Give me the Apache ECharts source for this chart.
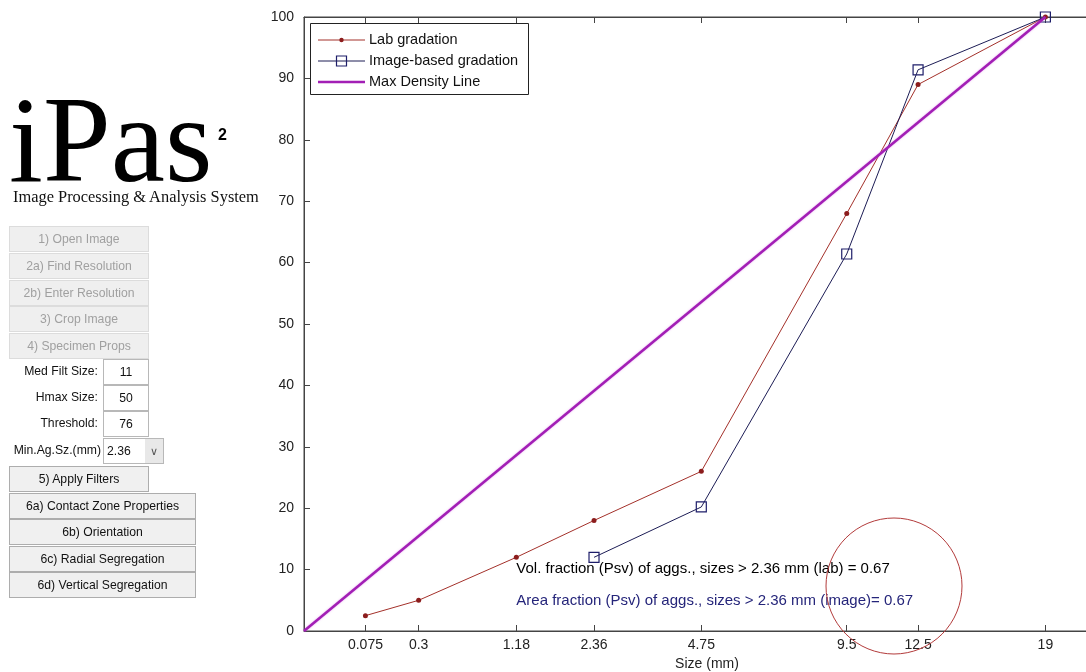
<!DOCTYPE html>
<html>
<head>
<meta charset="utf-8">
<script src="https://cdn.jsdelivr.net/npm/echarts@6/dist/echarts.min.js"></script>
<style>
  html, body { margin:0; padding:0; width:1086px; height:672px; overflow:hidden; background:#fff; font-family:"Liberation Sans", Arial, sans-serif; }
  #chart { position:absolute; left:0; top:0; width:1110px; height:672px; }
  #panel { position:absolute; left:0; top:0; width:270px; height:672px; z-index:2; }
  .logo { position:absolute; left:9px; top:79px; font-family:"Liberation Serif","Times New Roman",serif; font-size:122px; line-height:122px; color:#000; letter-spacing:0px; }
  .sup { position:absolute; left:218px; top:126px; font-family:"Liberation Sans",Arial,sans-serif; font-weight:bold; font-size:16px; color:#000; }
  .sub { position:absolute; left:13px; top:187px; font-family:"Liberation Serif","Times New Roman",serif; font-size:16.4px; color:#111; white-space:nowrap; }
  .btn { position:absolute; box-sizing:border-box; height:26px; line-height:24px; text-align:center; font-size:12.2px; color:#111; background:#f0f0f0; border:1px solid #adadad; white-space:nowrap; }
  .btn.dis { color:#a0a0a0; background:#efefef; border-color:#dcdcdc; }
  .lbl { position:absolute; font-size:12.2px; color:#111; text-align:right; white-space:nowrap; }
  .inp { position:absolute; box-sizing:border-box; height:26px; line-height:24px; text-align:center; font-size:12.2px; color:#111; background:#fff; border:1px solid #b8b8b8; }
  .sel { position:absolute; box-sizing:border-box; height:26px; line-height:24px; font-size:12.2px; color:#111; background:#fff; border:1px solid #b8b8b8; padding-left:3px; }
  .sel span { position:absolute; right:0; top:0; width:18px; height:24px; background:#e8e8e8; text-align:center; color:#555; font-size:11px; }
</style>
</head>
<body>
<div id="chart"></div>
<div id="panel">
  <div class="logo">iPas</div>
  <div class="sup">2</div>
  <div class="sub">Image Processing &amp; Analysis System</div>

  <div class="btn dis" style="left:9px;top:226px;width:140px;">1) Open Image</div>
  <div class="btn dis" style="left:9px;top:253px;width:140px;">2a) Find Resolution</div>
  <div class="btn dis" style="left:9px;top:280px;width:140px;">2b) Enter Resolution</div>
  <div class="btn dis" style="left:9px;top:306px;width:140px;">3) Crop Image</div>
  <div class="btn dis" style="left:9px;top:333px;width:140px;">4) Specimen Props</div>

  <div class="lbl" style="left:0;top:364px;width:98px;">Med Filt Size:</div>
  <div class="inp" style="left:103px;top:359px;width:46px;">11</div>
  <div class="lbl" style="left:0;top:390px;width:98px;">Hmax Size:</div>
  <div class="inp" style="left:103px;top:385px;width:46px;">50</div>
  <div class="lbl" style="left:0;top:416px;width:98px;">Threshold:</div>
  <div class="inp" style="left:103px;top:411px;width:46px;">76</div>
  <div class="lbl" style="left:0;top:443px;width:101px;">Min.Ag.Sz.(mm)</div>
  <div class="sel" style="left:103px;top:438px;width:61px;">2.36<span>&#8744;</span></div>

  <div class="btn" style="left:9px;top:466px;width:140px;">5) Apply Filters</div>
  <div class="btn" style="left:9px;top:493px;width:187px;">6a) Contact Zone Properties</div>
  <div class="btn" style="left:9px;top:519px;width:187px;">6b) Orientation</div>
  <div class="btn" style="left:9px;top:546px;width:187px;">6c) Radial Segregation</div>
  <div class="btn" style="left:9px;top:572px;width:187px;">6d) Vertical Segregation</div>
</div>
<script>
// ---- data (sieve sizes in mm, percent passing) ----
const sizes      = [0.075, 0.3, 1.18, 2.36, 4.75, 9.5, 12.5, 19];
const tickLabels = ['0.075', '0.3', '1.18', '2.36', '4.75', '9.5', '12.5', '19'];
const labPassing   = [2.5, 5, 12, 18, 26, 68, 89, 100];
const imageSizes   = [2.36, 4.75, 9.5, 12.5, 19];
const imagePassing = [12, 20.2, 61.4, 91.4, 100];
const maxDensSizes   = [0, 19];
const maxDensPassing = [0, 100];
const yTicks = [0, 10, 20, 30, 40, 50, 60, 70, 80, 90, 100];
const legendNames = ['Lab gradation', 'Image-based gradation', 'Max Density Line'];
const volText  = 'Vol. fraction (Psv) of aggs., sizes > 2.36 mm (lab) = 0.67';
const areaText = 'Area fraction (Psv) of aggs., sizes > 2.36 mm (image)= 0.67';
const volAnchor  = [1.18, 10.2];
const areaAnchor = [1.18, 4.9];

// 0.45-power gradation axis (FHWA max density chart)
const P = 0.45;
const tx = s => Math.pow(s, P);
const tickPos = sizes.map(tx);
const pair = (xs, ys) => xs.map((s, i) => [tx(s), ys[i]]);

const LAB_LINE = '#a3302a', LAB_MARK = '#8c1d1d';
const IMG_LINE = '#1c1c55', IMG_MARK = '#1e1e6a';
const MAX_LINE = '#a21fb5';
const FONT = '"Liberation Sans", Arial, sans-serif';

// hand-built MATLAB-style legend box (layout only)
const LX = 310, LY = 23, LW = 218, LH = 71, ROW = 21, FIRST = 17;
const legendGraphic = {
  type: 'group', z: 20, children: [
    { type: 'rect', shape: { x: LX + 0.5, y: LY + 0.5, width: LW, height: LH }, style: { fill: '#fff', stroke: '#222', lineWidth: 1 } },
    { type: 'line', shape: { x1: LX + 8, y1: LY + FIRST, x2: LX + 55, y2: LY + FIRST }, style: { stroke: LAB_LINE, lineWidth: 1 } },
    { type: 'circle', shape: { cx: LX + 31.5, cy: LY + FIRST, r: 2.2 }, style: { fill: LAB_MARK } },
    { type: 'text', style: { x: LX + 59, y: LY + FIRST, text: legendNames[0], font: '14.5px ' + FONT, fill: '#111', verticalAlign: 'middle' } },
    { type: 'line', shape: { x1: LX + 8, y1: LY + FIRST + ROW, x2: LX + 55, y2: LY + FIRST + ROW }, style: { stroke: IMG_LINE, lineWidth: 1 } },
    { type: 'rect', shape: { x: LX + 26.5, y: LY + FIRST + ROW - 5, width: 10, height: 10 }, style: { fill: '#fff', stroke: IMG_MARK, lineWidth: 1.2 } },
    { type: 'line', shape: { x1: LX + 26.5, y1: LY + FIRST + ROW, x2: LX + 36.5, y2: LY + FIRST + ROW }, style: { stroke: IMG_LINE, lineWidth: 1 } },
    { type: 'text', style: { x: LX + 59, y: LY + FIRST + ROW, text: legendNames[1], font: '14.5px ' + FONT, fill: '#111', verticalAlign: 'middle' } },
    { type: 'line', shape: { x1: LX + 8, y1: LY + FIRST + 2 * ROW, x2: LX + 55, y2: LY + FIRST + 2 * ROW }, style: { stroke: MAX_LINE, lineWidth: 2.5 } },
    { type: 'text', style: { x: LX + 59, y: LY + FIRST + 2 * ROW, text: legendNames[2], font: '14.5px ' + FONT, fill: '#111', verticalAlign: 'middle' } }
  ]
};

const chart = echarts.init(document.getElementById('chart'), null, {renderer: 'canvas'});
const axisCommon = {
  min: 0, max: 4.09,
  axisLine: { show: true, lineStyle: { color: '#444', width: 1 } },
  axisTick: { show: true, inside: true, length: 6, customValues: tickPos, lineStyle: { color: '#444' } },
  splitLine: { show: false }
};
chart.setOption({
  animation: false,
  backgroundColor: 'transparent',
  grid: { left: 304, top: 17, right: 0, bottom: 41, show: true, borderColor: '#444', borderWidth: 1, containLabel: false, outerBoundsMode: 'none' },
  xAxis: [
    Object.assign({}, axisCommon, {
      type: 'value', position: 'bottom',
      name: 'Size (mm)', nameLocation: 'middle', nameGap: 24,
      nameTextStyle: { fontFamily: FONT, fontSize: 14, color: '#222' },
      axisLabel: {
        customValues: tickPos, margin: 7,
        fontFamily: FONT, fontSize: 14, color: '#222',
        formatter: v => { const i = tickPos.findIndex(p => Math.abs(p - v) < 1e-6); return i >= 0 ? tickLabels[i] : ''; }
      }
    }),
    Object.assign({}, axisCommon, {
      type: 'value', position: 'top',
      axisLabel: { show: false }
    })
  ],
  yAxis: {
    type: 'value', min: 0, max: 100, interval: 10,
    axisLine: { show: true, lineStyle: { color: '#444' } },
    axisTick: { show: true, inside: true, length: 6, lineStyle: { color: '#444' } },
    axisLabel: { fontFamily: FONT, fontSize: 14, color: '#222', margin: 10,
      formatter: v => yTicks.includes(v) ? String(v) : '' },
    splitLine: { show: false }
  },
  series: [
    {
      name: legendNames[0], type: 'line', data: pair(sizes, labPassing),
      symbol: 'circle', symbolSize: 5,
      lineStyle: { color: LAB_LINE, width: 1 },
      itemStyle: { color: LAB_MARK }, z: 3
    },
    {
      name: legendNames[1], type: 'line', data: pair(imageSizes, imagePassing),
      symbol: 'rect', symbolSize: 10,
      lineStyle: { color: IMG_LINE, width: 1 },
      itemStyle: { color: 'rgba(0,0,0,0)', borderColor: IMG_MARK, borderWidth: 1.2 }, z: 4
    },
    {
      name: legendNames[2], type: 'line', data: pair(maxDensSizes, maxDensPassing),
      symbol: 'none',
      lineStyle: { color: MAX_LINE, width: 2.5, shadowColor: 'rgba(210,80,230,0.5)', shadowBlur: 2 },
      itemStyle: { color: MAX_LINE }, z: 5
    },
    {
      name: 'notes', type: 'scatter', symbolSize: 0, silent: true, z: 6,
      itemStyle: { opacity: 1 },
      data: [
        { value: [tx(volAnchor[0]), volAnchor[1]], label: { show: true, position: 'right', distance: 0, formatter: volText, color: '#000' } },
        { value: [tx(areaAnchor[0]), areaAnchor[1]], label: { show: true, position: 'right', distance: 0, formatter: areaText, color: '#25257a' } }
      ],
      label: { fontFamily: FONT, fontSize: 15 }
    }
  ],
  graphic: [
    legendGraphic,
    { type: 'circle', shape: { cx: 894, cy: 586, r: 68 }, style: { fill: 'none', stroke: '#b23a3a', lineWidth: 1 }, z: 10 }
  ]
});
</script>
</body>
</html>
